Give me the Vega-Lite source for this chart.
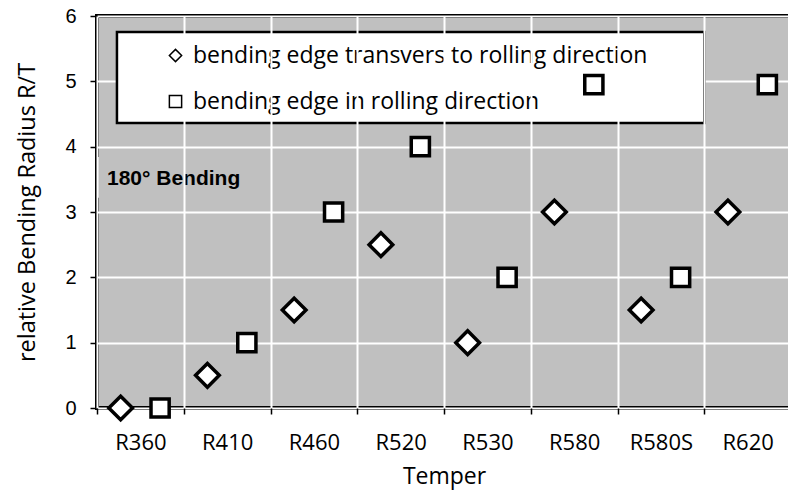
{
  "$schema": "https://vega.github.io/schema/vega-lite/v6.json",
  "autosize": "none",
  "padding": {"left": 97, "top": 16, "right": 0, "bottom": 90},
  "width": 694,
  "height": 392,
  "background": "white",
  "config": {
    "view": {"fill": "#c0c0c0", "stroke": "black", "strokeWidth": 4},
    "axis": {"gridColor": "white", "gridWidth": 2, "gridOpacity": 1, "domain": false, "tickColor": "black", "tickWidth": 1.5}
  },
  "data": {"name": "points"},
  "encoding": {
    "x": {
      "field": "temper", "type": "nominal", "sort": null,
      "scale": {"domain": ["R360", "R410", "R460", "R520", "R530", "R580", "R580S", "R620"], "paddingInner": 0, "paddingOuter": 0},
      "axis": {
        "title": "Temper", "titleFont": "Open Sans", "titleFontSize": 23, "titleFontWeight": "normal", "titleColor": "black", "titlePadding": 12,
        "labelFont": "Open Sans", "labelFontSize": 22, "labelColor": "black", "labelAngle": 0, "labelPadding": 18,
        "tickBand": "extent", "tickSize": 6, "grid": true
      }
    },
    "y": {
      "field": "rt", "type": "quantitative",
      "scale": {"domain": [0, 6], "nice": false},
      "axis": {
        "title": "relative Bending Radius R/T", "titleFont": "Open Sans", "titleFontSize": 23.5, "titleFontWeight": "normal", "titleColor": "black", "titlePadding": 25,
        "labelFont": "Liberation Sans", "labelFontSize": 20, "labelColor": "black", "labelPadding": 14,
        "values": [0, 1, 2, 3, 4, 5, 6], "tickSize": 7, "grid": true
      }
    }
  },
  "layer": [
    {
      "transform": [{"filter": "datum.temper === 'R360' && datum.direction === 'bending edge in rolling direction'"}],
      "mark": {"type": "rect", "fill": "white", "stroke": "black", "strokeWidth": 2.5},
      "encoding": {
        "x": {"datum": "R360", "bandPosition": 0.23},
        "x2": {"datum": "R620", "bandPosition": 0},
        "y": {"datum": 5.755},
        "y2": {"datum": 4.362}
      }
    },
    {
      "transform": [{"filter": "datum.temper === 'R360' && datum.direction === 'bending edge in rolling direction'"}],
      "mark": {"type": "rect", "fill": "#c0c0c0"},
      "encoding": {
        "x": {"datum": "R360", "bandPosition": 0},
        "x2": {"datum": "R410", "bandPosition": 0.85},
        "y": {"datum": 3.22},
        "y2": {"datum": 3.84}
      }
    },
    {
      "transform": [{"filter": "datum.temper === 'R360' && datum.direction === 'bending edge in rolling direction'"}],
      "mark": {"type": "text", "text": "180° Bending", "font": "Liberation Sans", "fontSize": 21, "fontWeight": "bold", "align": "left", "baseline": "middle", "dx": 10, "color": "black"},
      "encoding": {
        "x": {"datum": "R360", "bandPosition": 0},
        "y": {"datum": 3.5}
      }
    },
    {
      "transform": [{"filter": "datum.direction === 'bending edge transvers to rolling direction'"}],
      "mark": {"type": "point", "filled": true, "fill": "white", "stroke": "black", "strokeWidth": 3.5, "opacity": 1, "size": 560},
      "encoding": {
        "xOffset": {"field": "direction", "type": "nominal", "scale": {"domain": ["bending edge transvers to rolling direction", "bending edge in rolling direction"], "padding": 0.6}},
        "shape": {
          "field": "direction", "type": "nominal",
          "scale": {"domain": ["bending edge transvers to rolling direction", "bending edge in rolling direction"], "range": ["diamond", "square"]},
          "legend": {
            "title": "\u00a0", "titleOrient": "left", "titlePadding": 35, "titleFontSize": 20,
            "orient": "none", "legendX": 20, "legendY": 16,
            "padding": 12, "rowPadding": 22, "labelOffset": 6,
            "labelFont": "Open Sans", "labelFontSize": 23, "labelColor": "black", "labelLimit": 0,
            "symbolSize": 150,
            "encode": {
              "symbols": {
                "update": {
                  "fill": {"value": "white"},
                  "stroke": {"value": "black"},
                  "strokeWidth": {"value": 1.8},
                  "opacity": {"value": 1},
                  "size": {"value": 150}
                }
              }
            }
          }
        }
      }
    },
    {
      "transform": [{"filter": "datum.direction === 'bending edge in rolling direction'"}],
      "mark": {"type": "point", "filled": true, "fill": "white", "stroke": "black", "strokeWidth": 3.5, "opacity": 1, "size": 330},
      "encoding": {
        "xOffset": {"field": "direction", "type": "nominal"},
        "shape": {"field": "direction", "type": "nominal"}
      }
    }
  ],
  "datasets": {
    "points": [
      {"temper": "R360", "direction": "bending edge transvers to rolling direction", "rt": 0},
      {"temper": "R360", "direction": "bending edge in rolling direction", "rt": 0},
      {"temper": "R410", "direction": "bending edge transvers to rolling direction", "rt": 0.5},
      {"temper": "R410", "direction": "bending edge in rolling direction", "rt": 1},
      {"temper": "R460", "direction": "bending edge transvers to rolling direction", "rt": 1.5},
      {"temper": "R460", "direction": "bending edge in rolling direction", "rt": 3},
      {"temper": "R520", "direction": "bending edge transvers to rolling direction", "rt": 2.5},
      {"temper": "R520", "direction": "bending edge in rolling direction", "rt": 4},
      {"temper": "R530", "direction": "bending edge transvers to rolling direction", "rt": 1},
      {"temper": "R530", "direction": "bending edge in rolling direction", "rt": 2},
      {"temper": "R580", "direction": "bending edge transvers to rolling direction", "rt": 3},
      {"temper": "R580", "direction": "bending edge in rolling direction", "rt": 4.95},
      {"temper": "R580S", "direction": "bending edge transvers to rolling direction", "rt": 1.5},
      {"temper": "R580S", "direction": "bending edge in rolling direction", "rt": 2},
      {"temper": "R620", "direction": "bending edge transvers to rolling direction", "rt": 3},
      {"temper": "R620", "direction": "bending edge in rolling direction", "rt": 4.95}
    ]
  }
}
